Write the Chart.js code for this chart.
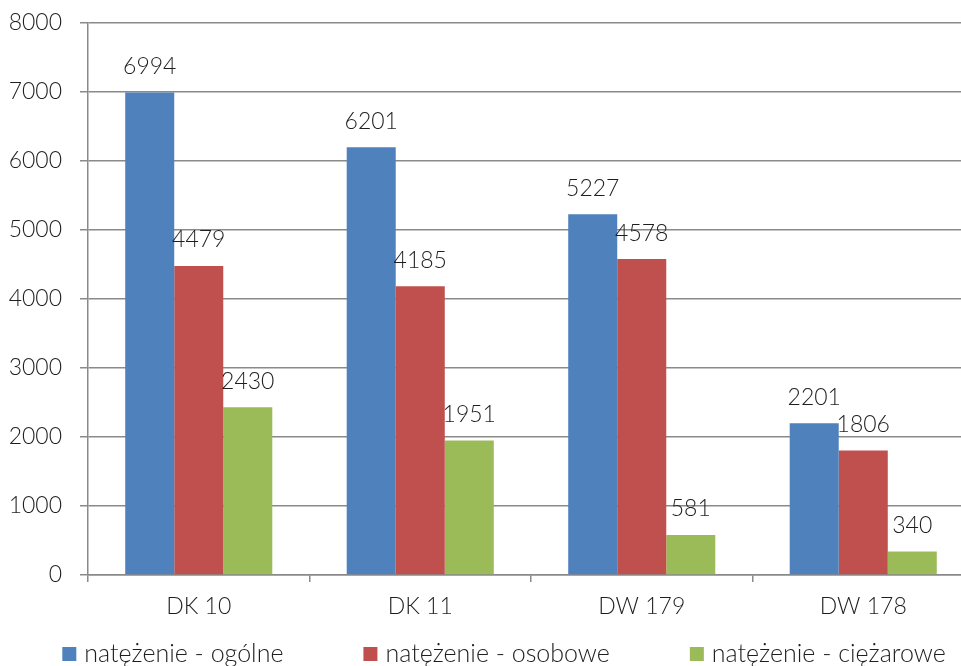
<!DOCTYPE html>
<html>
<head>
<meta charset="utf-8">
<script src="https://cdn.jsdelivr.net/npm/chart.js@4/dist/chart.umd.min.js"></script>
<style>
  html, body { margin: 0; padding: 0; background: #fff; overflow: hidden; }
  #wrap { position: relative; width: 975px; height: 666px; }
</style>
</head>
<body>
<div id="wrap"><canvas id="myChart" width="975" height="666"></canvas></div>
<script>
const roads = ["DK 10", "DK 11", "DW 179", "DW 178"];
const ogolne = [6994, 6201, 5227, 2201];
const osobowe = [4479, 4185, 4578, 1806];
const ciezarowe = [2430, 1951, 581, 340];
const seriesNames = ["natężenie - ogólne", "natężenie - osobowe", "natężenie - ciężarowe"];
const colors = ["#4F81BD", "#C0504D", "#9BBB59"];

const FONT = "Lato";
const gridGray = "#8a8a8a";
const textColor = "#1e1e1e";

// value labels above each bar
const valueLabels = {
  id: "valueLabels",
  afterDatasetsDraw(chart) {
    const ctx = chart.ctx;
    ctx.save();
    ctx.font = "300 23px " + FONT;
    ctx.fillStyle = textColor;
    ctx.textAlign = "center";
    ctx.textBaseline = "middle";
    chart.data.datasets.forEach((ds, i) => {
      chart.getDatasetMeta(i).data.forEach((bar, j) => {
        ctx.fillText(String(ds.data[j]), bar.x, bar.y - 26);
      });
    });
    ctx.restore();
  },
};

// legend row along the bottom
const bottomLegend = {
  id: "bottomLegend",
  afterDraw(chart) {
    const ctx = chart.ctx;
    const gap = 80, box = 14, textGap = 8, y = 654;
    ctx.save();
    ctx.font = "300 25px " + FONT;
    ctx.textBaseline = "middle";
    const items = chart.data.datasets.map((ds) => ({
      label: ds.label,
      color: ds.backgroundColor,
      w: box + textGap + ctx.measureText(ds.label).width,
    }));
    const total = items.reduce((s, it) => s + it.w, 0) + gap * (items.length - 1);
    let x = 504 - total / 2;
    items.forEach((it) => {
      ctx.fillStyle = it.color;
      ctx.fillRect(x, y - box / 2, box, box);
      ctx.fillStyle = textColor;
      ctx.fillText(it.label, x + box + textGap, y);
      x += it.w + gap;
    });
    ctx.restore();
  },
};

const data = {
  labels: roads,
  datasets: [
    { label: seriesNames[0], data: ogolne, backgroundColor: colors[0] },
    { label: seriesNames[1], data: osobowe, backgroundColor: colors[1] },
    { label: seriesNames[2], data: ciezarowe, backgroundColor: colors[2] },
  ],
};

const config = {
  type: "bar",
  data: data,
  options: {
    responsive: false,
    animation: false,
    devicePixelRatio: 1,
    layout: { padding: { top: 23, right: 1, bottom: 40, left: 0 } },
    datasets: {
      bar: { categoryPercentage: 0.664, barPercentage: 1, borderWidth: 0 },
    },
    plugins: {
      legend: { display: false },
      tooltip: { enabled: false },
    },
    scales: {
      x: {
        offset: true,
        grid: {
          offset: true,
          drawOnChartArea: false,
          tickLength: 7,
          color: gridGray,
          lineWidth: 1.5,
        },
        border: { color: gridGray, width: 1.5 },
        ticks: {
          color: textColor,
          padding: 11,
          font: { family: FONT, size: 23, weight: 300 },
        },
        afterFit(scale) {
          scale.height = 51;
          scale.paddingLeft = 0;
          scale.paddingRight = 0;
        },
      },
      y: {
        min: 0,
        max: 8000,
        ticks: {
          stepSize: 1000,
          color: textColor,
          padding: 18,
          font: { family: FONT, size: 23, weight: 300 },
          callback: (v) => String(v),
        },
        grid: { color: gridGray, lineWidth: 1.5, tickLength: 8 },
        border: { color: gridGray, width: 1.5 },
        afterFit(scale) {
          scale.width = 88;
          scale.paddingTop = 0;
          scale.paddingBottom = 0;
        },
      },
    },
  },
  plugins: [valueLabels, bottomLegend],
};

const myChart = new Chart(document.getElementById("myChart").getContext("2d"), config);
</script>
</body>
</html>
